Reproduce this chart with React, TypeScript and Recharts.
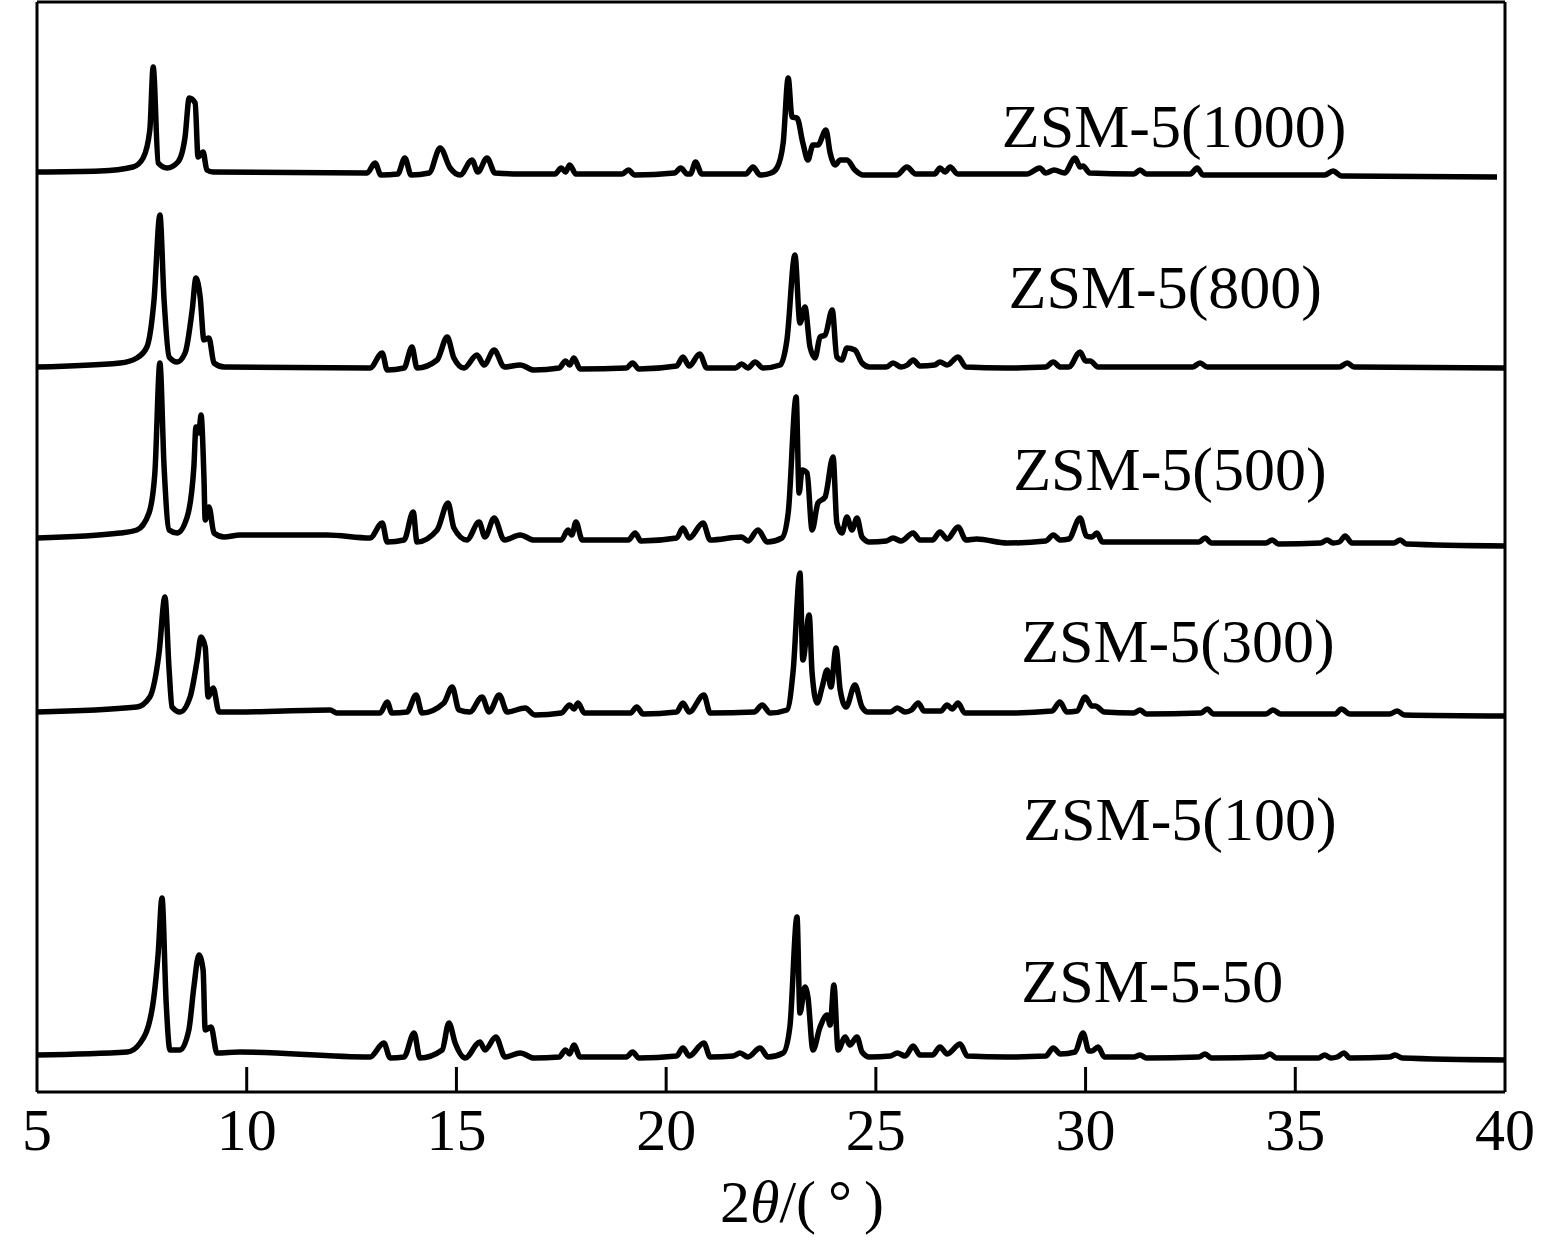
import { LineChart, Line, XAxis, YAxis, ReferenceDot, ReferenceLine } from "recharts";

// 2θ (deg) / stacked intensity (a.u.)
const zsm1000: [number, number][] = [
    [5.0, 920], [6.5, 921], [7.29, 925], [7.53, 934], [7.69, 962], [7.77, 1025], [7.89, 929],
    [8.1, 924], [8.36, 930], [8.53, 955], [8.63, 994], [8.77, 989], [8.84, 935], [8.96, 940],
    [9.05, 922], [9.2, 920], [12.87, 919], [13.06, 929], [13.2, 917], [13.6, 918], [13.77, 934],
    [13.92, 917], [14.35, 919], [14.61, 944], [14.85, 924], [15.09, 917], [15.37, 932], [15.51, 920],
    [15.73, 934], [15.92, 919], [16.5, 918], [17.35, 918], [17.5, 924], [17.6, 920], [17.7, 927],
    [17.85, 918], [18.95, 918], [19.1, 922], [19.25, 917], [20.2, 919], [20.35, 924], [20.5, 918],
    [20.58, 918], [20.7, 930], [20.85, 918], [21.9, 918], [22.07, 925], [22.24, 917], [22.5, 919],
    [22.64, 924], [22.79, 949], [22.91, 1014], [23.0, 975], [23.12, 974], [23.26, 949], [23.38, 932],
    [23.5, 947], [23.62, 947], [23.81, 962], [23.91, 939], [24.03, 927], [24.15, 932], [24.31, 932],
    [24.5, 922], [24.7, 917], [25.5, 917], [25.74, 925], [25.95, 918], [26.4, 918], [26.53, 924],
    [26.65, 920], [26.77, 925], [26.95, 918], [28.6, 918], [28.91, 924], [29.05, 919], [29.25, 922],
    [29.5, 919], [29.75, 934], [29.87, 925], [29.94, 926], [30.1, 919], [31.15, 918], [31.3, 922],
    [31.45, 918], [32.5, 918], [32.66, 924], [32.8, 917], [35.7, 917], [35.9, 921], [36.1, 916],
    [39.81, 915],
];

const zsm800: [number, number][] = [
    [5.0, 725], [6.98, 729], [7.38, 734], [7.62, 745], [7.79, 792], [7.93, 877], [8.03, 792],
    [8.15, 735], [8.34, 730], [8.53, 739], [8.7, 782], [8.79, 814], [8.89, 795], [8.98, 752],
    [9.1, 754], [9.22, 729], [9.46, 725], [12.94, 724], [13.23, 739], [13.35, 722], [13.75, 724],
    [13.94, 745], [14.06, 724], [14.54, 732], [14.78, 755], [14.94, 734], [15.18, 724], [15.49, 737],
    [15.66, 727], [15.9, 742], [16.14, 725], [16.52, 727], [16.85, 722], [17.45, 724], [17.6, 731],
    [17.7, 727], [17.8, 734], [17.95, 723], [19.05, 724], [19.2, 729], [19.35, 723], [20.25, 726],
    [20.4, 735], [20.55, 726], [20.8, 738], [20.97, 724], [21.65, 724], [21.8, 728], [21.95, 724],
    [22.12, 730], [22.31, 724], [22.72, 727], [22.88, 752], [23.07, 837], [23.19, 769], [23.31, 785],
    [23.43, 745], [23.55, 734], [23.67, 755], [23.79, 757], [23.96, 782], [24.07, 735], [24.19, 732],
    [24.31, 744], [24.5, 742], [24.67, 729], [24.85, 725], [25.25, 725], [25.41, 729], [25.6, 725],
    [25.75, 727], [25.89, 732], [26.05, 726], [26.4, 727], [26.53, 730], [26.7, 727], [26.96, 735],
    [27.15, 725], [28.1, 724], [29.05, 725], [29.23, 730], [29.4, 725], [29.6, 725], [29.87, 740],
    [30.0, 731], [30.11, 731], [30.3, 725], [32.55, 725], [32.73, 729], [32.9, 725], [36.05, 725],
    [36.24, 729], [36.4, 725], [40.0, 724],
];

const zsm500: [number, number][] = [
    [5.0, 554], [6.98, 559], [7.38, 562], [7.67, 579], [7.81, 619], [7.93, 729], [8.03, 625],
    [8.15, 562], [8.34, 559], [8.58, 575], [8.74, 625], [8.79, 665], [8.86, 659], [8.91, 677],
    [8.98, 615], [9.01, 572], [9.1, 585], [9.22, 559], [9.46, 555], [9.84, 557], [11.91, 557],
    [12.94, 554], [13.23, 569], [13.35, 550], [13.75, 552], [13.97, 580], [14.06, 550], [14.54, 562],
    [14.8, 589], [14.94, 564], [15.25, 552], [15.54, 570], [15.68, 555], [15.9, 574], [16.14, 552],
    [16.52, 557], [16.85, 552], [17.5, 552], [17.66, 562], [17.75, 557], [17.85, 570], [18.0, 552],
    [19.1, 552], [19.26, 559], [19.4, 551], [20.25, 554], [20.4, 564], [20.55, 554], [20.88, 569],
    [21.05, 552], [21.8, 555], [21.95, 551], [22.19, 562], [22.41, 550], [22.76, 554], [22.91, 579],
    [23.1, 695], [23.17, 599], [23.24, 622], [23.36, 619], [23.48, 562], [23.62, 589], [23.79, 595],
    [23.98, 635], [24.07, 569], [24.19, 559], [24.31, 575], [24.43, 562], [24.55, 574], [24.67, 555],
    [24.85, 550], [25.25, 551], [25.41, 554], [25.6, 551], [25.89, 559], [26.05, 552], [26.35, 552],
    [26.53, 560], [26.7, 553], [26.96, 565], [27.15, 552], [27.4, 553], [28.13, 549], [29.05, 551],
    [29.23, 557], [29.4, 552], [29.6, 553], [29.87, 574], [30.02, 556], [30.15, 555], [30.27, 559],
    [30.4, 550], [32.7, 550], [32.85, 554], [33.0, 549], [34.3, 549], [34.45, 552], [34.6, 548],
    [35.6, 549], [35.76, 552], [35.9, 549], [36.05, 550], [36.19, 556], [36.35, 549], [37.35, 549],
    [37.5, 552], [37.65, 548], [40.0, 546],
];

const zsm300: [number, number][] = [
    [5.0, 380], [7.38, 385], [7.69, 395], [7.91, 439], [8.05, 495], [8.15, 422], [8.22, 385],
    [8.41, 380], [8.65, 395], [8.82, 432], [8.91, 455], [9.01, 445], [9.08, 395], [9.2, 404],
    [9.34, 380], [9.77, 380], [11.99, 382], [12.15, 379], [13.18, 379], [13.35, 390], [13.46, 379],
    [13.82, 380], [14.04, 397], [14.18, 379], [14.7, 389], [14.9, 405], [15.06, 382], [15.32, 380],
    [15.61, 395], [15.78, 380], [16.02, 397], [16.21, 380], [16.64, 384], [16.87, 377], [17.5, 379],
    [17.7, 387], [17.8, 383], [17.9, 389], [18.05, 379], [19.15, 379], [19.3, 385], [19.45, 378],
    [20.25, 380], [20.4, 389], [20.55, 380], [20.9, 397], [21.05, 379], [22.1, 380], [22.29, 387],
    [22.48, 379], [22.88, 382], [23.03, 422], [23.19, 519], [23.26, 432], [23.41, 477], [23.48, 419],
    [23.6, 389], [23.72, 405], [23.84, 422], [23.93, 405], [24.05, 444], [24.15, 402], [24.29, 385],
    [24.5, 407], [24.67, 385], [24.81, 380], [25.35, 380], [25.51, 384], [25.7, 380], [25.85, 382],
    [26.01, 389], [26.15, 381], [26.55, 381], [26.7, 387], [26.82, 383], [26.96, 389], [27.12, 379],
    [28.13, 379], [29.2, 381], [29.39, 390], [29.55, 380], [29.8, 381], [29.99, 395], [30.15, 386],
    [30.23, 386], [30.45, 380], [31.15, 379], [31.3, 382], [31.45, 378], [32.75, 379], [32.9, 383],
    [33.05, 378], [34.3, 378], [34.47, 382], [34.65, 378], [35.95, 378], [36.1, 383], [36.3, 378],
    [37.25, 378], [37.43, 381], [37.6, 377], [40.0, 376],
];

const zsm50: [number, number][] = [
    [5.0, 37], [7.15, 40], [7.46, 49], [7.74, 82], [7.89, 139], [7.98, 194], [8.08, 89],
    [8.17, 42], [8.41, 42], [8.62, 62], [8.74, 105], [8.86, 137], [8.96, 122], [9.01, 62],
    [9.15, 65], [9.29, 39], [9.84, 40], [12.94, 35], [13.27, 49], [13.42, 34], [13.75, 35],
    [13.99, 59], [14.13, 34], [14.66, 42], [14.82, 69], [14.97, 49], [15.21, 34], [15.56, 50],
    [15.68, 42], [15.94, 55], [16.16, 35], [16.52, 39], [16.85, 34], [17.45, 35], [17.6, 42],
    [17.7, 38], [17.8, 47], [17.95, 35], [19.05, 35], [19.2, 40], [19.35, 34], [20.25, 36],
    [20.4, 44], [20.55, 36], [20.9, 49], [21.05, 35], [21.6, 36], [21.76, 39], [21.95, 35],
    [22.24, 44], [22.43, 35], [22.79, 39], [22.95, 65], [23.12, 175], [23.19, 79], [23.31, 105],
    [23.38, 95], [23.5, 42], [23.67, 65], [23.84, 77], [23.91, 67], [24.0, 107], [24.1, 42],
    [24.27, 55], [24.38, 47], [24.55, 55], [24.67, 40], [24.85, 35], [25.35, 36], [25.51, 39],
    [25.7, 36], [25.89, 46], [26.05, 37], [26.35, 37], [26.53, 45], [26.7, 38], [27.01, 48],
    [27.18, 36], [28.13, 35], [29.05, 36], [29.23, 44], [29.4, 38], [29.75, 40], [29.94, 59],
    [30.08, 41], [30.15, 41], [30.3, 45], [30.45, 35], [31.15, 35], [31.3, 37], [31.45, 34],
    [32.7, 35], [32.85, 38], [33.0, 34], [34.25, 35], [34.4, 38], [34.55, 34], [35.55, 34],
    [35.7, 37], [35.85, 34], [36.0, 35], [36.16, 39], [36.3, 34], [37.25, 35], [37.38, 37],
    [37.55, 34], [40.0, 32],
];

const seriesNames = ["ZSM-5(1000)", "ZSM-5(800)", "ZSM-5(500)", "ZSM-5(300)", "ZSM-5(100)", "ZSM-5-50"];
const xTicks = [5, 10, 15, 20, 25, 30, 35, 40];

const FONT = '"Liberation Serif", "Times New Roman", serif';
const Y_MAX = 1090;
const TICK_LEN = 25; // in intensity units (1 unit ≈ 1 px here)

const toRows = (pts: [number, number][]) => pts.map(([x, y]) => ({ x, y }));

const traces = [
    { key: "s1000", rows: toRows(zsm1000) },
    { key: "s800", rows: toRows(zsm800) },
    { key: "s500", rows: toRows(zsm500) },
    { key: "s300", rows: toRows(zsm300) },
    { key: "s50", rows: toRows(zsm50) },
];

// inner tick marks, drawn as short vertical series so they sit on the axis scale
const tickMarks = xTicks.slice(1, -1).map((t) => [
    { x: t, y: 0 },
    { x: t, y: TICK_LEN },
]);

// label anchor: [2θ, value] of text baseline centre
const labelAnchors: [number, number][] = [
    [32.11, 945],
    [31.9, 784],
    [32.01, 602],
    [32.2, 430],
    [32.25, 252],
    [31.59, 90],
];

const TickLabel = (props: any) => {
    const { x, y, payload } = props;
    return (
        <text x={x} y={y + 58} textAnchor="middle" fontFamily={FONT} fontSize={60} fill="#000">
            {payload.value}
        </text>
    );
};

const AxisTitle = (props: any) => {
    const vb = props.viewBox;
    return (
        <text
            x={vb.x + vb.width / 2 + 31}
            y={1222}
            textAnchor="middle"
            fontFamily={FONT}
            fontSize={60}
            fill="#000"
        >
            2<tspan fontStyle="italic">θ</tspan>/(&#8201;°&#8201;)
        </text>
    );
};

export default function App() {
    return (
        <div style={{ position: "absolute", left: 0, top: 0, background: "#fff" }}>
            <LineChart
                width={1541}
                height={1244}
                margin={{ top: 2, right: 36, left: 37, bottom: 0 }}
            >
                <XAxis
                    dataKey="x"
                    type="number"
                    domain={[5, 40]}
                    ticks={xTicks}
                    allowDataOverflow
                    height={152}
                    axisLine={{ stroke: "#000", strokeWidth: 3 }}
                    tickLine={false}
                    tickSize={0}
                    tickMargin={0}
                    tick={<TickLabel />}
                    label={<AxisTitle />}
                />
                <YAxis type="number" domain={[0, Y_MAX]} width={0} hide />

                {/* frame */}
                <ReferenceLine x={5} stroke="#000" strokeWidth={3} ifOverflow="visible" />
                <ReferenceLine x={40} stroke="#000" strokeWidth={3} ifOverflow="visible" />
                <ReferenceLine y={Y_MAX} stroke="#000" strokeWidth={3} ifOverflow="visible" />

                {tickMarks.map((seg, i) => (
                    <Line
                        key={`tick-${i}`}
                        data={seg}
                        dataKey="y"
                        type="linear"
                        stroke="#000"
                        strokeWidth={3}
                        dot={false}
                        activeDot={false}
                        isAnimationActive={false}
                    />
                ))}

                {traces.map((t) => (
                    <Line
                        key={t.key}
                        data={t.rows}
                        dataKey="y"
                        type="monotone"
                        stroke="#000"
                        strokeWidth={5.5}
                        dot={false}
                        activeDot={false}
                        isAnimationActive={false}
                    />
                ))}

                {seriesNames.map((name, i) => (
                    <ReferenceDot
                        key={name}
                        x={labelAnchors[i][0]}
                        y={labelAnchors[i][1]}
                        r={0}
                        shape={(p: any) => (
                            <text
                                x={p.cx}
                                y={p.cy}
                                textAnchor="middle"
                                fontFamily={FONT}
                                fontSize={62}
                                fill="#000"
                            >
                                {name}
                            </text>
                        )}
                    />
                ))}
            </LineChart>
        </div>
    );
}
